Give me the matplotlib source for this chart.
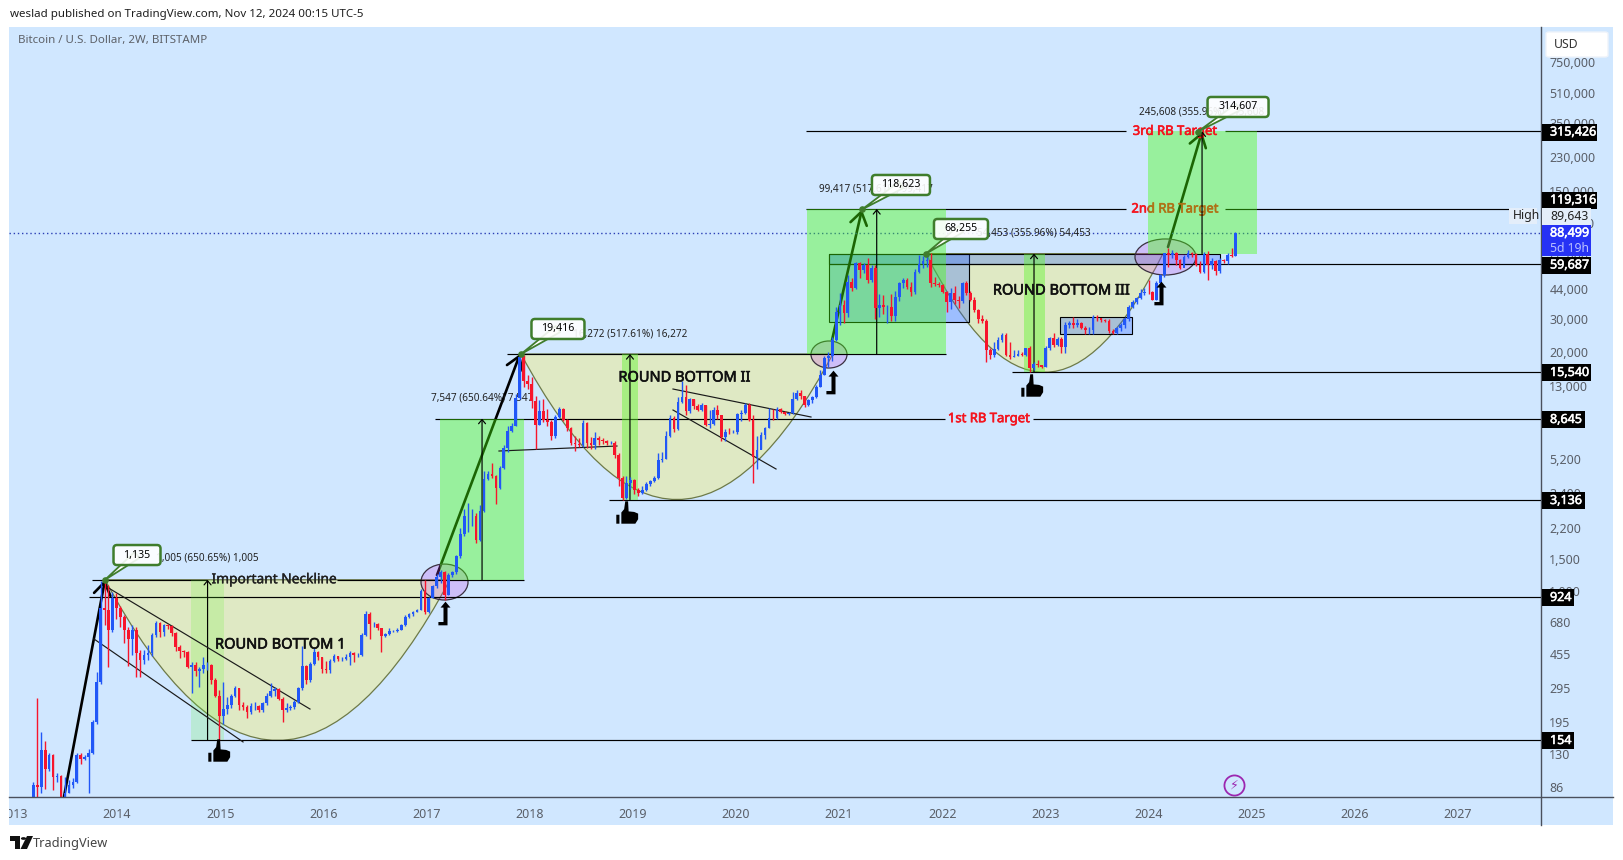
"""Bitcoin / USD 2W round-bottom idea, redrawn from a TradingView snapshot."""
import matplotlib

matplotlib.use("Agg")
import matplotlib.patheffects as pe
import matplotlib.pyplot as plt
import numpy as np
import pandas as pd
from matplotlib.lines import Line2D
from matplotlib.patches import PathPatch, Rectangle, Polygon, Circle, FancyBboxPatch
from matplotlib.path import Path
from matplotlib.transforms import ScaledTranslation

plt.rcParams["font.family"] = ["Noto Sans", "DejaVu Sans"]

LAST_BAR = "2024-11-04"

closes = [
    88, 86, 136, 108, 128, 97, 99, 70, 80, 88, 92, 128, 122, 125, 132, 195, 321, 804, 790, 613, 912, 810, 720,
    610, 550, 610, 457, 420, 450, 460, 575, 667, 600, 650, 645, 590, 495, 470, 465, 385, 395, 365, 375, 395, 395,
    330, 270, 210, 228, 240, 270, 295, 240, 235, 220, 238, 238, 225, 245, 270, 285, 292, 260, 225, 232, 233, 250,
    295, 392, 330, 400, 465, 435, 375, 372, 415, 445, 425, 425, 438, 460, 450, 450, 575, 750, 660, 665, 625, 570,
    580, 605, 608, 612, 650, 725, 745, 770, 790, 1000, 770, 920, 1060, 1190, 1260, 950, 1220, 1260,
    1540, 2032, 2555, 2560, 2560, 1890, 2730, 4060, 4350, 4200, 3650, 4650, 6000, 7410, 7900, 11150, 18800,
    13860, 13400, 10800, 8000, 9520, 8500, 8330, 6960, 8860, 9730, 8500, 7660, 6350, 6300, 6220, 8215, 6350,
    6180, 6750, 6650, 6500, 6350, 6400, 5490, 4100, 3200, 3840, 4000, 3550, 3400, 3550, 3800, 3950, 4100, 5150,
    5250, 6950, 8770, 7600, 10700, 11400, 9500, 11000, 10100, 9600, 10250, 8000, 8100, 9640, 9050, 6840, 7360,
    7350, 7360, 9160, 9320, 10250, 8500, 5370, 5840, 7050, 7700, 8770, 8690, 9760, 9450, 9200, 9250, 11000,
    11850, 11450, 10300, 10950, 11300, 12900, 14950, 18400, 19000, 23200, 33000, 35900, 32400,
    48050, 44600, 60460, 55600, 59000, 49050, 57000, 34400, 35800, 35000, 35100, 31300, 39490, 47060, 48800,
    45000, 42400, 54450, 60000, 62500, 63000, 47500, 46500, 45800, 42400, 37400, 41500, 38000, 37900, 47060,
    41500, 38200, 33700, 29980, 29500, 20420, 19200, 20600, 23150, 24640, 19190, 18800, 19000, 19500, 19200,
    20850, 16230, 17130, 17000, 16600, 20850, 23830, 21800, 23500, 21300, 28000, 28500, 27900, 28500, 26800,
    26230, 26300, 30800, 30300, 29700, 29500, 25900, 25400, 26800, 27900, 30000, 35130, 37400, 38990, 41800,
    42400, 42000, 38200, 47500, 52000, 68500, 67100, 69000, 63000, 57000, 65700, 68500, 68000, 59200, 54450,
    68000, 59200, 62000, 55000, 63000, 62500, 67100, 66000, 88500,
]
highs = [
    92, 262, 172, 153, 132, 130, 103, 100, 97, 94, 96, 132, 131, 128, 138, 200, 363, 1135, 1135, 1080, 985, 970,
    830, 740, 640, 650, 640, 480, 480, 510, 590, 690, 680, 665, 660, 650, 600, 510, 480, 470, 410, 410, 385, 440,
    410, 400, 335, 290, 320, 265, 275, 305, 295, 250, 240, 245, 250, 240, 250, 280, 315, 300, 295, 265, 245, 240,
    255, 300, 505, 395, 410, 490, 470, 440, 415, 425, 455, 445, 440, 455, 470, 465, 460, 590, 775, 770, 680, 670,
    630, 590, 625, 615, 625, 660, 740, 760, 780, 800, 1020, 1150, 930, 1080, 1240, 1300, 1290, 1250, 1280,
    1570, 2200, 2790, 3000, 2790, 2650, 2950, 4480, 4480, 4980, 4250, 4780, 6200, 7880, 8200, 11700, 19416,
    19300, 15000, 14500, 11500, 10900, 11000, 9800, 8500, 9000, 9990, 9900, 8600, 7750, 7000, 6800, 8500, 8300,
    6900, 7300, 7000, 6800, 6600, 6500, 6500, 5600, 4200, 4200, 4150, 4050, 3650, 3700, 3900, 4000, 4200, 5600,
    5700, 7400, 9100, 8950, 11400, 13800, 13100, 11200, 11100, 10400, 10500, 10300, 9600, 10000, 10300, 9100,
    7600, 7700, 7500, 9300, 9600, 10500, 10500, 9000, 7000, 7300, 7800, 9900, 9700, 10000, 9900, 9500, 9400,
    12100, 12300, 12400, 11500, 11000, 11550, 13200, 15900, 19000, 19900, 24000, 34800, 41900, 38000,
    52000, 50000, 61500, 61700, 60500, 64900, 59500, 59000, 41000, 40500, 36000, 41000, 42500, 48000, 50500,
    50000, 48000, 56000, 67500, 66000, 66000, 69000, 51000, 48000, 46500, 43000, 44500, 45500, 40000, 48000,
    48200, 42500, 39500, 34000, 31500, 30000, 21000, 22500, 24000, 25300, 25200, 22700, 20500, 20500, 19800,
    21000, 21500, 17500, 18000, 17000, 21500, 24000, 25200, 24000, 23900, 29000, 29300, 31000, 30000, 29000,
    27500, 27200, 31500, 31500, 30500, 30000, 30000, 26500, 27200, 28500, 31000, 36000, 38000, 39500, 44000,
    44500, 49050, 43000, 48500, 53000, 69000, 72930, 71500, 70000, 64000, 67000, 71000, 70000, 69000, 62500,
    70000, 70100, 65000, 63000, 64500, 63500, 68500, 73000, 89643,
]
lows = [
    50, 50, 80, 84, 105, 83, 92, 65, 65, 80, 85, 90, 115, 120, 80, 130, 190, 310, 650, 387, 600, 700, 640, 520,
    390, 450, 342, 342, 400, 420, 445, 560, 560, 570, 620, 570, 470, 430, 440, 380, 280, 345, 300, 360, 370, 310,
    265, 154, 190, 215, 230, 265, 225, 225, 205, 215, 225, 220, 220, 240, 265, 270, 255, 195, 220, 225, 228, 245,
    290, 310, 320, 395, 420, 360, 360, 360, 410, 415, 415, 420, 395, 410, 440, 445, 570, 545, 640, 610, 465, 560,
    575, 595, 600, 610, 645, 710, 730, 765, 785, 750, 760, 910, 1040, 1100, 890, 950, 1190,
    1230, 1520, 2000, 2100, 2250, 1830, 1880, 2700, 4000, 4100, 2980, 3600, 4600, 5700, 7300, 7900, 11000,
    12800, 12500, 9900, 5900, 8000, 8300, 7900, 6600, 6800, 8700, 8350, 7400, 6200, 5800, 6100, 6100, 6000,
    5900, 5900, 6200, 6300, 6250, 6300, 5300, 3700, 3122, 3150, 3600, 3350, 3300, 3350, 3500, 3700, 3900, 4050,
    5050, 5200, 6900, 7300, 7500, 10500, 9100, 9300, 9700, 9500, 9500, 7900, 7700, 8000, 8600, 6500, 6500, 7100,
    7250, 7100, 8400, 9200, 8400, 3850, 4600, 5900, 6700, 7700, 8500, 8650, 9300, 9050, 9100, 9200, 10950, 11100,
    10000, 10100, 10550, 11200, 12800, 14900, 16500, 17800, 23000, 28000, 28500,
    31000, 43000, 44000, 50500, 53500, 47000, 48000, 30000, 31000, 32000, 28800, 29200, 29300, 37500, 44500,
    44000, 40000, 41000, 53500, 57000, 57500, 45000, 45500, 45000, 41500, 32900, 34000, 36500, 34500, 37000,
    40500, 37500, 33000, 28500, 28500, 17600, 18200, 18800, 20500, 22500, 19000, 18200, 18700, 19000, 18900,
    19000, 15476, 15900, 16500, 16300, 16500, 20500, 21300, 21500, 19600, 19700, 27000, 27000, 27200, 26500,
    25000, 25000, 25000, 29500, 29000, 29000, 25400, 25000, 25000, 26000, 27000, 29500, 34500, 36500, 38500,
    40500, 41000, 38000, 38000, 47000, 51000, 57980, 64500, 59500, 56500, 60000, 64500, 65500, 58200, 53500,
    53700, 49050, 56000, 52500, 53500, 60500, 60000, 65500, 66500,
]

year_ticks = [2013, 2014, 2015, 2016, 2017, 2018, 2019, 2020, 2021, 2022, 2023, 2024, 2025, 2026, 2027]
price_ticks = [750000, 510000, 350000, 230000, 150000, 100000, 65000, 44000, 30000, 20000, 13000,
               8600, 5200, 3400, 2200, 1500, 1000, 680, 455, 295, 195, 130, 86]

# horizontal levels: price, start year, end year
level_prices = [315426, 315426, 119316, 119316, 59687, 15540, 8645, 8645, 3136, 924, 154,
                19416, 1150, 1150]
level_starts = [2020.68, 2024.74, 2020.68, 2024.74, 2020.903, 2022.677, 2017.083, 2022.88, 2018.77, 2013.725,
                2014.717, 2017.781, 2013.758, 2016.133]
level_ends = [2023.78, 2027.805, 2023.78, 2027.505, 2027.805, 2027.805, 2022.027, 2027.805, 2027.805, 2027.805,
              2027.805, 2022.037, 2014.87, 2017.946]

# projection boxes: year from, year to, price low, price high
box_x0 = [2017.131, 2020.689, 2023.995]
box_x1 = [2017.946, 2022.037, 2025.052]
box_lo = [1150, 19416, 68255]
box_hi = [8645, 119316, 315426]
strip_x0 = [2014.717, 2018.896, 2022.793]
strip_x1 = [2015.037, 2019.051, 2022.997]
strip_lo = [154, 3136, 15540]
strip_hi = [1150, 19416, 68255]
measure_x = [2014.878, 2017.539, 2021.365, 2018.973, 2022.89, 2024.519]
measure_lo = [154, 1150, 19416, 3136, 15540, 68255]
measure_hi = [1150, 8645, 119316, 19416, 68255, 315426]
measure_text = ["1,005 (650.65%) 1,005", "7,547 (650.64%) 7,547", "99,417 (517.61%) 99,417",
                "16,272 (517.61%) 16,272", "54,453 (355.96%) 54,453", "245,608 (355.96%) 245,608"]
measure_text_x = [2014.873, 2017.539, 2021.358, 2018.973, 2022.89, 2024.519]
measure_text_y = [1510, 11196, 153300, 24950, 88400, 402000]

# round bottoms: left year, right year, rim price, control price of the arc
bowl_x0 = [2013.884, 2017.917, 2021.843]
bowl_x1 = [2017.228, 2020.94, 2024.14]
bowl_rim = [1150, 19416, 68255]
bowl_ctrl = [20.6, 508, 3495]

zone_x0 = [2020.903, 2020.903, 2023.142]
zone_x1 = [2022.26, 2024.693, 2023.84]
zone_lo = [29000, 59687, 24950]
zone_hi = [68255, 68255, 30870]

ell_x0 = [2016.947, 2020.728, 2023.869]
ell_x1 = [2017.403, 2021.077, 2024.46]
ell_lo = [893, 16300, 52230]
ell_hi = [1400, 22860, 82000]

# thin trend lines: x0, p0, x1, p1
trend_x0 = [2013.903, 2013.777, 2017.703, 2019.39, 2019.39]
trend_p0 = [1050, 548, 5766, 12530, 9634]
trend_x1 = [2015.871, 2015.222, 2018.847, 2020.728, 2020.389]
trend_p1 = [228, 151, 6138, 8827, 4603]

# long arrows up to each top
long_x0 = [2013.486, 2017.102, 2020.932, 2024.189]
long_p0 = [76, 1220, 23150, 74170]
long_x1 = [2013.884, 2017.907, 2021.222, 2024.519]
long_p1 = [1150, 19416, 118623, 314607]

callout_text = ["1,135", "19,416", "118,623", "68,255", "314,607"]
callout_x = [2013.884, 2017.917, 2021.222, 2021.843, 2024.48]
callout_y = [1150, 19416, 118623, 68255, 314607]
callout_tx = [2014.194, 2018.275, 2021.60, 2022.182, 2024.868]
callout_ty = [1568, 26570, 161200, 92900, 428000]
callout_w = [47, 53, 58, 54, 61]

hook_x = [2017.18, 2020.941, 2024.12]
hook_y = [759, 13680, 41700]
thumb_x = [2014.989, 2018.944, 2022.87]
thumb_y = [136, 2687, 13180]

BG = "#d0e7ff"
UP = "#2157f7"
DOWN = "#f7152c"
GREEN_EDGE = "#3f7d2c"
AXIS = "#4a505c"
TICK = "#5a5f68"
W, H = 1623, 860


def fx(x):
    return x / W


def fy(y):
    return 1 - y / H


def heavy(color, width=0.45):
    # the installed Noto Sans has no heavier cut, so thicken the glyphs with a stroke
    return [pe.withStroke(linewidth=width, foreground=color)]


def px_box(x0, y0, x1, y1, color, z=5):
    fig.add_artist(Rectangle((fx(x0), fy(y1)), (x1 - x0) / W, (y1 - y0) / H, transform=fig.transFigure,
                             fc=color, ec="none", zorder=z))


def px_text(x, y, s, color="white", size=9.2, stroke=0.0, z=6):
    t = fig.text(fx(x), fy(y), s, color=color, fontsize=size, ha="left", va="center", zorder=z)
    if stroke:
        t.set_path_effects(heavy(color, stroke))


fig = plt.figure(figsize=(W / 100, H / 100), dpi=100, facecolor="white")
panel = Rectangle((fx(9), fy(825)), (1613 - 9) / W, (825 - 27) / H, transform=fig.transFigure, fc=BG, ec="none",
                  zorder=-5)
fig.add_artist(panel)

ax = fig.add_axes([fx(9), fy(797), (1541 - 9) / W, (797 - 27) / H], facecolor="none", zorder=1)
ax.set_yscale("log")
ax.set_xlim(2012.953, 2027.805)
ax.set_ylim(75.8, 1165000)

# round bottoms
for x0, x1, rim, ctrl in zip(bowl_x0, bowl_x1, bowl_rim, bowl_ctrl):
    path = Path([(x0, rim), ((x0 + x1) / 2, ctrl), (x1, rim), (x0, rim)],
                [Path.MOVETO, Path.CURVE3, Path.CURVE3, Path.LINETO])
    ax.add_patch(PathPatch(path, fc="#dfe9c4", ec="#6d7a48", lw=0.9, zorder=1))

# blue zones sit under the green boxes
for x0, x1, lo, hi in zip(zone_x0, zone_x1, zone_lo, zone_hi):
    ax.add_patch(Rectangle((x0, lo), x1 - x0, hi - lo, fc=(41 / 255, 98 / 255, 1, 0.3), ec="black", lw=0.8, zorder=2))

for x0, x1, p0, p1 in zip(long_x0, long_x1, long_p0, long_p1):
    ax.annotate("", xy=(x1, p1), xytext=(x0, p0), zorder=2.2, annotation_clip=False,
                arrowprops=dict(arrowstyle="->,head_length=0.9,head_width=0.6", color="black", lw=1.9,
                                shrinkA=0, shrinkB=0))

target_red = "#f5141e"
ax.text(2022.454, 8645, "1st RB Target", color=target_red, fontsize=9.4, ha="center", va="center", zorder=2.3,
        path_effects=heavy(target_red))
ax.text(2024.257, 119316, "2nd RB Target", color=target_red, fontsize=9.4, ha="center", va="center", zorder=2.3,
        path_effects=heavy(target_red))
ax.text(2024.257, 315426, "3rd RB Target", color=target_red, fontsize=9.4, ha="center", va="center", zorder=3.2,
        path_effects=heavy(target_red))

ax.hlines(level_prices, level_starts, level_ends, color="black", lw=0.85, zorder=2.5)
ax.axhline(88499, color="#2b3fb5", lw=1, ls=(0, (1, 2)), zorder=2.5)

for x0, x1, lo, hi in zip(ell_x0, ell_x1, ell_lo, ell_hi):
    circle = Path.unit_circle()
    cx, rx = (x0 + x1) / 2, (x1 - x0) / 2
    cy, ry = (np.log10(lo) + np.log10(hi)) / 2, (np.log10(hi) - np.log10(lo)) / 2
    verts = np.column_stack([cx + rx * circle.vertices[:, 0], 10 ** (cy + ry * circle.vertices[:, 1])])
    ax.add_patch(PathPatch(Path(verts, circle.codes), fc=(200 / 255, 70 / 255, 230 / 255, 0.25), ec="#3a3040", lw=0.9,
                           zorder=2.4))

# translucent green projections
for x0, x1, lo, hi in zip(box_x0, box_x1, box_lo, box_hi):
    ax.add_patch(Rectangle((x0, lo), x1 - x0, hi - lo, fc=(70 / 255, 1, 12 / 255, 0.4), ec="none", zorder=3))
for i, (x0, x1, lo, hi) in enumerate(zip(strip_x0, strip_x1, strip_lo, strip_hi)):
    alpha = 0.2 if i == 0 else 0.45
    ax.add_patch(Rectangle((x0, lo), x1 - x0, hi - lo, fc=(100 / 255, 245 / 255, 50 / 255, alpha), ec="none", zorder=3))

for x, lo, hi in zip(measure_x, measure_lo, measure_hi):
    ax.annotate("", xy=(x, hi), xytext=(x, lo), zorder=4,
                arrowprops=dict(arrowstyle="->,head_length=0.3,head_width=0.25", color="black", lw=0.85,
                                shrinkA=0, shrinkB=0))
for s, x, y in zip(measure_text, measure_text_x, measure_text_y):
    ax.text(x, y, s, fontsize=7.2, color="#222222", ha="center", va="center", zorder=4)

for x0, x1, p0, p1 in zip(trend_x0, trend_x1, trend_p0, trend_p1):
    ax.plot([x0, x1], [p0, p1], color="#1a1a1a", lw=0.85, zorder=4)

# candles, open taken from the previous close
dates = pd.date_range(end=LAST_BAR, periods=len(closes), freq="14D")
bar_x = dates.year + (dates.dayofyear - 1) / 365.25
closes_arr = np.array(closes, dtype=float)
opens_arr = np.r_[closes_arr[0] * 0.8, closes_arr[:-1]]
colors = [UP if c >= o else DOWN for o, c in zip(opens_arr, closes_arr)]
ax.vlines(bar_x, lows, highs, colors=colors, lw=1, zorder=5)
ax.bar(bar_x, np.abs(closes_arr - opens_arr), bottom=np.minimum(opens_arr, closes_arr), width=0.026, color=colors,
       zorder=5.1, linewidth=0)

# callouts: pointer first, then a box of fixed pixel size around the label
for s, x, y, tx, ty, w in zip(callout_text, callout_x, callout_y, callout_tx, callout_ty, callout_w):
    ax.annotate("", xy=(x, y), xytext=(tx, ty), zorder=5.9,
                arrowprops=dict(arrowstyle="wedge,tail_width=0.55,shrink_factor=0.5", fc="white", ec=GREEN_EDGE,
                                lw=1.3, shrinkA=0, shrinkB=0))
    at_label = fig.dpi_scale_trans + ScaledTranslation(tx, ty, ax.transData)
    ax.add_patch(FancyBboxPatch((-w / 200, -0.1), w / 100, 0.2, boxstyle="round,pad=0,rounding_size=0.035",
                                transform=at_label, fc=(1, 1, 1, 0.9), ec=GREEN_EDGE, lw=1.8, zorder=6,
                                clip_on=False))
    ax.text(tx, ty, s, fontsize=7.6, ha="center", va="center", color="black", zorder=6.1)
ax.scatter(callout_x, callout_y, s=14, color=GREEN_EDGE, zorder=6)

ax.text(2015.522, 1150, "Important Neckline", fontsize=9.9, color="#202020", ha="center", va="center", zorder=6,
        path_effects=heavy("#202020", 0.25))
ax.text(2015.58, 508, "ROUND BOTTOM 1", fontsize=10.5, color="#111111", ha="center", va="center", zorder=6,
        path_effects=heavy("#111111"))
ax.text(2019.497, 14380, "ROUND BOTTOM II", fontsize=10.5, color="#111111", ha="center", va="center", zorder=6,
        path_effects=heavy("#111111"))
ax.text(2023.151, 42740, "ROUND BOTTOM III", fontsize=10.5, color="#111111", ha="center", va="center", zorder=6,
        path_effects=heavy("#111111"))

hook_marker = Path([(0, 1), (0.42, 0.5), (0.17, 0.5), (0.17, -1), (-0.6, -1), (-0.6, -0.72), (-0.17, -0.72),
                    (-0.17, 0.5), (-0.42, 0.5), (0, 1)], closed=True)
ax.scatter(hook_x, hook_y, marker=hook_marker, s=290, color="black", linewidths=0, zorder=7)
thumb_marker = Path([(-1, -1), (-0.72, -1), (-0.72, -0.2), (-1, -0.2), (-1, -1),
                     (-0.55, -1), (0.7, -1), (0.95, -0.6), (0.95, -0.1), (0.6, 0.05), (0.1, 0.1), (0.05, 1),
                     (-0.2, 1), (-0.3, 0.3), (-0.55, 0), (-0.55, -1)],
                    [Path.MOVETO, Path.LINETO, Path.LINETO, Path.LINETO, Path.CLOSEPOLY,
                     Path.MOVETO] + [Path.LINETO] * 9 + [Path.CLOSEPOLY])
ax.scatter(thumb_x, thumb_y, marker=thumb_marker, s=260, color="black", linewidths=0, zorder=7)

# news bolt near the last bar
ax.scatter([2024.83], [88], s=210, facecolor=BG, edgecolor="#9c27b0", linewidths=1.3, zorder=7)
ax.text(2024.83, 88, "⚡", color="#9c27b0", fontsize=9, ha="center", va="center", zorder=8,
        family=["DejaVu Sans"])

# axes
for side in ("top", "left", "right", "bottom"):
    ax.spines[side].set_visible(False)
ax.yaxis.tick_right()
ax.set_yticks(price_ticks)
ax.set_yticklabels([f"{p:,}" for p in price_ticks], fontsize=9, color=TICK)
ax.minorticks_off()
ax.tick_params(axis="y", length=0, pad=6)
ax.set_xticks(year_ticks)
ax.set_xticklabels([str(y) for y in year_ticks], fontsize=9, color=TICK)
ax.tick_params(axis="x", length=0, pad=8)
for label in ax.get_xticklabels():
    label.set_clip_path(panel)
    label.set_clip_on(True)

fig.add_artist(Line2D([fx(9), fx(1613)], [fy(797), fy(797)], color=AXIS, lw=1, transform=fig.transFigure, zorder=4))
fig.add_artist(Line2D([fx(1541), fx(1541)], [fy(27), fy(825)], color=AXIS, lw=1, transform=fig.transFigure, zorder=4))

# header and footer
px_text(10, 14, "weslad published on TradingView.com, Nov 12, 2024 00:15 UTC-5", color="#1f1f1f", size=8.3)
px_text(18, 41, "Bitcoin / U.S. Dollar, 2W, BITSTAMP", color="#5d6168", size=8.3)
px_text(33, 843, "TradingView", color="#444444", size=9.2)
for shape in ([(10, 836), (20, 836), (20, 849), (15, 849), (15, 841), (10, 841)],
              [(27, 836), (33, 836), (27, 849), (20.5, 849)]):
    fig.add_artist(Polygon([(fx(a), fy(b)) for a, b in shape], closed=True, transform=fig.transFigure, fc="#111111",
                           ec="none", zorder=5))
fig.add_artist(Circle((fx(23.5), fy(838.5)), 2.6 / W, transform=fig.transFigure, fc="#111111", ec="none", zorder=5))

# currency button
fig.add_artist(FancyBboxPatch((fx(1546), fy(57)), 62 / W, 25 / H, boxstyle="round,pad=0,rounding_size=0.002",
                              transform=fig.transFigure, fc="white", ec="#eef3fa", lw=1, zorder=5))
px_text(1554, 45, "USD", color="#333333", size=8.8)

# price tags, stacked the way the platform shifts them
tag_text = ["315,426", "119,316", "59,687", "15,540", "8,645", "3,136", "924", "154"]
tag_y = [132, 200, 265, 372.5, 419.5, 500.5, 597.5, 740.5]
tag_right = [1597, 1597, 1591, 1591, 1585, 1585, 1574, 1574]
for s, y, r in zip(tag_text, tag_y, tag_right):
    px_box(1541.5, y - 8.5, r, y + 8.5, "black")
    px_text(1550, y, s, size=9, stroke=0.4)
px_box(1509, 208, 1537, 224, "#e4eefa")
px_box(1541.5, 208, 1591, 225, "#e4eefa")
px_text(1513, 216, "High", color="#222222", size=8.8)
px_text(1550, 216, "89,643", color="#222222", size=8.8)
px_box(1541.5, 225, 1591, 256, "#2632f5")
px_text(1550, 233, "88,499", size=9, stroke=0.4)
px_text(1550, 248, "5d 19h", color="#b9c0ff", size=8.8)

fig.savefig("out.png", dpi=100, facecolor="white")
plt.close(fig)
